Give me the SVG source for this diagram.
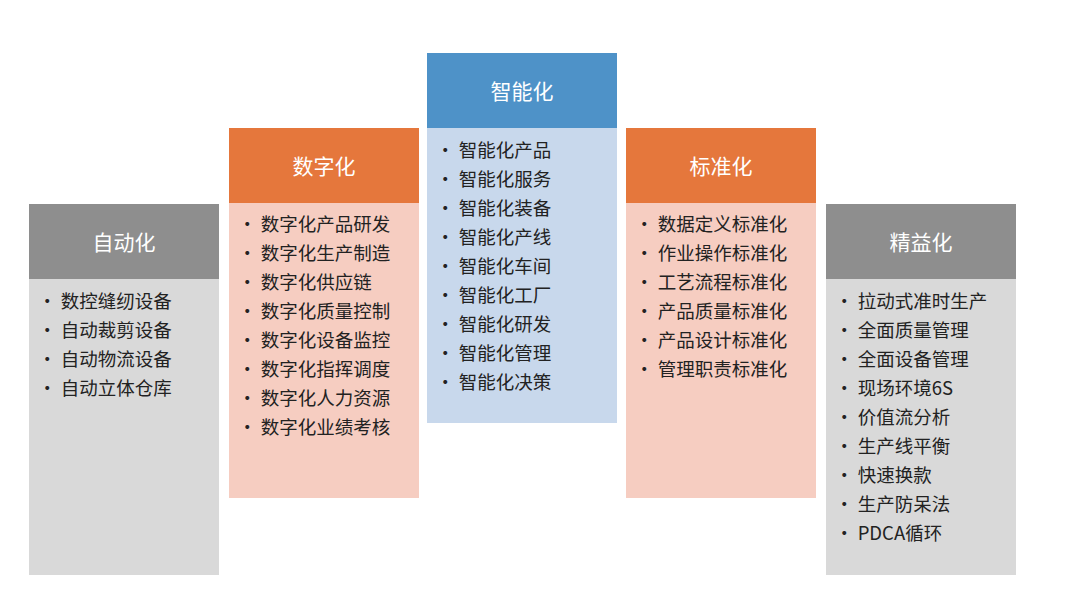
<svg xmlns="http://www.w3.org/2000/svg" width="1080" height="614" viewBox="0 0 1080 614">
<style>
.h{font-family:"Noto Sans CJK SC","Noto Sans",sans-serif;font-size:21px;fill:#fff;text-anchor:middle;dominant-baseline:central}
.t{font-family:"Noto Sans CJK SC","Liberation Sans",sans-serif;font-size:18.5px;fill:#222}
.gh{fill:#8e8e8e}.gb{fill:#d9d9d9}.oh{fill:#e5773c}.ob{fill:#f6cdc1}.bh{fill:#4e92c8}.bb{fill:#c8d8ec}
</style>
<rect width="1080" height="614" fill="#fff"/>
<g id="auto"><rect class="gh" x="29" y="204" width="190" height="75"/><rect class="gb" x="29" y="279" width="190" height="296"/><text class="h" x="124" y="241">自动化</text>
<text class="t" x="38" y="308">•  数控缝纫设备</text><text class="t" x="38" y="337">•  自动裁剪设备</text><text class="t" x="38" y="366">•  自动物流设备</text><text class="t" x="38" y="395">•  自动立体仓库</text></g>
<g id="digital"><rect class="oh" x="229" y="128" width="190" height="75"/><rect class="ob" x="229" y="203" width="190" height="295"/><text class="h" x="324" y="165">数字化</text>
<text class="t" x="238" y="231">•  数字化产品研发</text><text class="t" x="238" y="260">•  数字化生产制造</text><text class="t" x="238" y="289">•  数字化供应链</text><text class="t" x="238" y="318">•  数字化质量控制</text><text class="t" x="238" y="347">•  数字化设备监控</text><text class="t" x="238" y="376">•  数字化指挥调度</text><text class="t" x="238" y="405">•  数字化人力资源</text><text class="t" x="238" y="434">•  数字化业绩考核</text></g>
<g id="smart"><rect class="bh" x="427" y="53" width="190" height="75"/><rect class="bb" x="427" y="128" width="190" height="295"/><text class="h" x="522" y="90">智能化</text>
<text class="t" x="436" y="157">•  智能化产品</text><text class="t" x="436" y="186">•  智能化服务</text><text class="t" x="436" y="215">•  智能化装备</text><text class="t" x="436" y="244">•  智能化产线</text><text class="t" x="436" y="273">•  智能化车间</text><text class="t" x="436" y="302">•  智能化工厂</text><text class="t" x="436" y="331">•  智能化研发</text><text class="t" x="436" y="360">•  智能化管理</text><text class="t" x="436" y="389">•  智能化决策</text></g>
<g id="standard"><rect class="oh" x="626" y="128" width="190" height="75"/><rect class="ob" x="626" y="203" width="190" height="295"/><text class="h" x="721" y="165">标准化</text>
<text class="t" x="635" y="231">•  数据定义标准化</text><text class="t" x="635" y="260">•  作业操作标准化</text><text class="t" x="635" y="289">•  工艺流程标准化</text><text class="t" x="635" y="318">•  产品质量标准化</text><text class="t" x="635" y="347">•  产品设计标准化</text><text class="t" x="635" y="376">•  管理职责标准化</text></g>
<g id="lean"><rect class="gh" x="826" y="204" width="190" height="75"/><rect class="gb" x="826" y="279" width="190" height="296"/><text class="h" x="921" y="241">精益化</text>
<text class="t" x="835" y="308">•  拉动式准时生产</text><text class="t" x="835" y="337">•  全面质量管理</text><text class="t" x="835" y="366">•  全面设备管理</text><text class="t" x="835" y="395">•  现场环境6S</text><text class="t" x="835" y="424">•  价值流分析</text><text class="t" x="835" y="453">•  生产线平衡</text><text class="t" x="835" y="482">•  快速换款</text><text class="t" x="835" y="511">•  生产防呆法</text><text class="t" x="835" y="540">•  PDCA循环</text></g>
<g id="connectors"/>
</svg>
